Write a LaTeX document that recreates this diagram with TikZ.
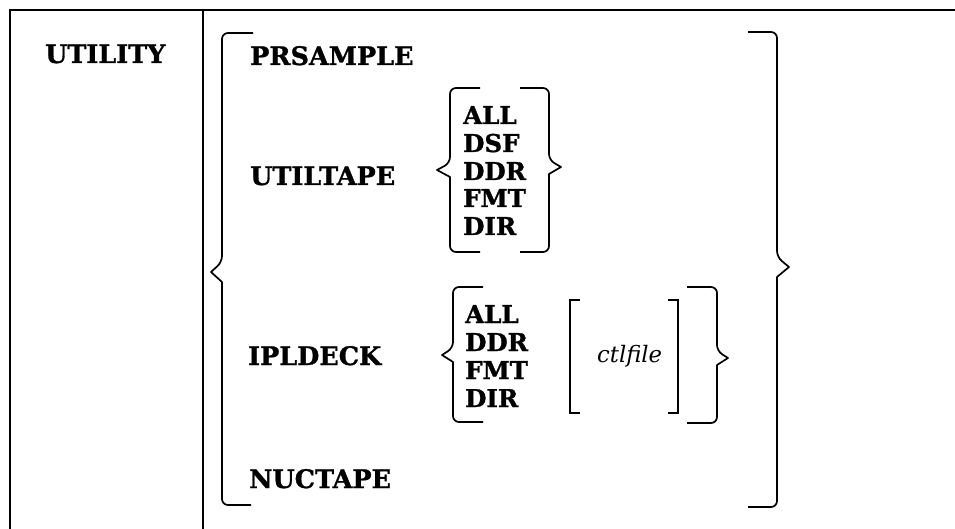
\documentclass[tikz,border=0pt]{standalone}
\usepackage{fontspec}
\setmainfont{DejaVu Serif}[BoldFeatures={FakeBold=1.2}]
\begin{document}
\begin{tikzpicture}[x=1pt,y=-1pt,
  kw/.style={anchor=base west,inner sep=0pt,font=\fontsize{25.5}{28}\selectfont\bfseries},
  opt/.style={anchor=base west,inner sep=0pt,font=\fontsize{24.5}{28}\selectfont\bfseries},
  arg/.style={anchor=base west,inner sep=0pt,font=\fontsize{22.7}{26}\selectfont\itshape},
  frame/.style={line width=1.6pt},
  brc/.style={line width=1.7pt,rounded corners=6pt,line join=round},
  brk/.style={line width=1.3pt}]
\useasboundingbox (0,0) rectangle (955,529);
% frame
\draw[frame] (10,529) -- (10,10) -- (955,10);
\draw[frame] (203,10) -- (203,529);
% labels
\node[kw] (utility) at (45,63) {UTILITY};
\node[kw] (prsample) at (250,65) {PRSAMPLE};
\node[kw] (utiltape) at (250,185) {UTILTAPE};
\node[kw] (ipldeck) at (248,365) {IPLDECK};
\node[kw] (nuctape) at (249,488) {NUCTAPE};
% utiltape options
\node[opt] (u1) at (463,124) {ALL};
\node[opt] (u2) at (463,152) {DSF};
\node[opt] (u3) at (463,180) {DDR};
\node[opt] (u4) at (463,207) {FMT};
\node[opt] (u5) at (463,235) {DIR};
% ipldeck options
\node[opt] (i1) at (465,323) {ALL};
\node[opt] (i2) at (465,351) {DDR};
\node[opt] (i3) at (465,379) {FMT};
\node[opt] (i4) at (465,407) {DIR};
\node[arg] (ctl) at (597,362) {ctlfile};
% big left brace
\draw[brc] (253,33) -- (222,33) -- (222,262) [sharp corners]-- (211,272) -- (222,282) [rounded corners=6pt]-- (222,505) -- (251,505);
% big right brace
\draw[brc] (748,32) -- (777,32) -- (777,257) [sharp corners]-- (789,267) -- (777,277) [rounded corners=6pt]-- (777,507) -- (748,507);
% utiltape braces
\draw[brc] (480,88) -- (450,88) -- (450,163) [sharp corners]-- (437,170) -- (450,177) [rounded corners=6pt]-- (450,252) -- (480,252);
\draw[brc] (520,88) -- (549,88) -- (549,160) [sharp corners]-- (561,167) -- (549,174) [rounded corners=6pt]-- (549,252) -- (520,252);
% ipldeck braces
\draw[brc] (483,287) -- (453,287) -- (453,348) [sharp corners]-- (442,355) -- (453,362) [rounded corners=6pt]-- (453,422) -- (483,422);
\draw[brc] (687,287) -- (717,287) -- (717,351) [sharp corners]-- (728,358) -- (717,365) [rounded corners=6pt]-- (717,423) -- (687,423);
% ctlfile brackets
\draw[brk] (580,300) -- (570,300) -- (570,413) -- (580,413);
\draw[brk] (668,300) -- (678,300) -- (678,413) -- (668,413);
\end{tikzpicture}
\end{document}
